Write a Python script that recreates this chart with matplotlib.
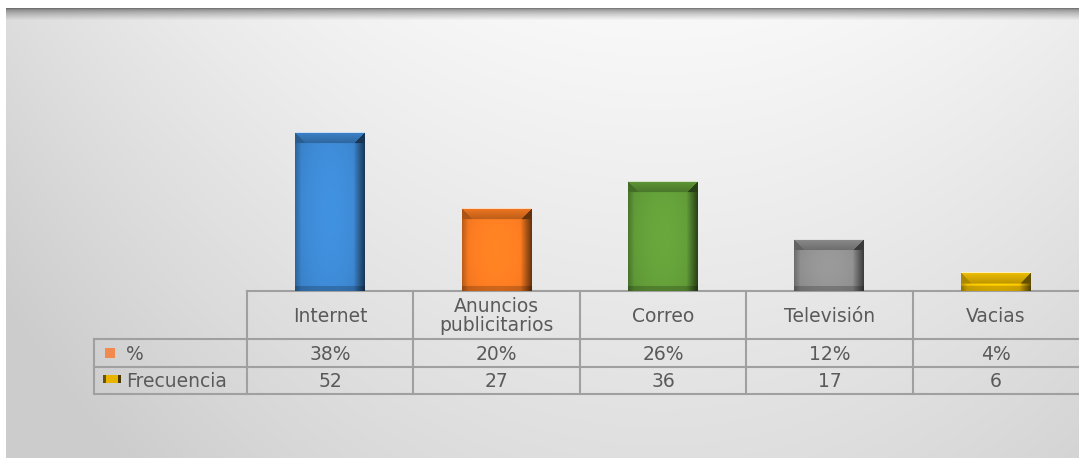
import numpy as np
import matplotlib
matplotlib.use('Agg')
import matplotlib.pyplot as plt
import matplotlib.colors as mcolors
from matplotlib.patches import Rectangle

# data
categorias = ['Internet', 'Anuncios\npublicitarios', 'Correo', 'Televisión', 'Vacias']
porcentaje = [38, 20, 26, 12, 4]
frecuencia = [52, 27, 36, 17, 6]
series_names = ['%', 'Frecuencia']
bar_colors = ['#3a82c9', '#ef7620', '#5e9636', '#8a8a8a', '#eebd00']

W, H = 1079, 458
txt_color = '#5a5a5a'
grid_color = '#a0a0a0'
plt.rcParams['font.family'] = ['DejaVu Sans']

fig = plt.figure(figsize=(W / 100, H / 100), dpi=100)

# background panel with soft gradient (pixel coordinates)
bg = fig.add_axes([0, 0, 1, 1])
bg.set_xlim(0, W)
bg.set_ylim(H, 0)
bg.axis('off')
yy, xx = np.mgrid[0:H, 0:W]
dx = (xx - 660) / 600.0
v = 0.975 - 0.09 * dx ** 2 - 0.10 * (yy - 10) / 450.0
v = np.clip(v, 0.8, 1)
shadow = np.clip((yy - 8) / 12.0, 0, 1)
v = v * (0.5 + 0.5 * shadow ** 0.6)
v[(yy < 8) | (xx < 6)] = 1.0
bg.imshow(np.dstack([v, v, v]), extent=(0, W, H, 0), aspect='auto', zorder=0)

# table geometry in pixels
col_x0, col_w = 247, 166.4
leg_x0 = 94
row_y = [291, 339, 367, 394]
x_end = W

# bar axes sits right on top of the table
px_per_unit = 3.04
ymax = 60
ax_bottom = 1 - row_y[0] / H
ax_height = ymax * px_per_unit / H
ax = fig.add_axes([col_x0 / W, ax_bottom, (col_w * 5) / W, ax_height])
ax.set_xlim(-0.5, 4.5)
ax.set_ylim(0, ymax)
ax.axis('off')
ax.patch.set_alpha(0)

bar_w = 0.42
bars = ax.bar(range(len(frecuencia)), frecuencia, width=bar_w, color=bar_colors, zorder=2)


def bevel_image(color, w_px, h_px, bev=11):
    base = np.array(mcolors.to_rgb(color))
    h_px = max(int(round(h_px)), 2)
    w_px = int(round(w_px))
    yy, xx = np.mgrid[0:h_px, 0:w_px].astype(float)
    u = (xx + 0.5) / w_px
    t = (yy + 0.5) / h_px
    f = 0.95 + 0.12 * (1 - (2 * u - 1) ** 2) + 0.05 * (1 - (2 * t - 1) ** 2)
    # side shading: soft left, strong right
    f = np.where(xx >= w_px - bev, f * (0.45 + 0.55 * (w_px - 1 - xx) / bev), f)
    f = np.where(xx < 6, f * (0.8 + 0.2 * xx / 6), f)
    # top bevel: trapezoid + corner triangles
    top = yy < bev
    f = np.where(top & (xx >= yy) & (xx < w_px - yy), 0.78 + 0.22 * (1 - yy / bev), f)
    f = np.where(top & (xx < yy), 0.72, f)
    f = np.where(top & (xx >= w_px - yy), 0.42, f)
    # bottom bevel
    f = np.where(yy >= h_px - 5, f * 0.8, f)
    img = np.clip(base[None, None, :] * f[..., None], 0, 1)
    # thin light rim on top edge
    img[0, :, :] = np.clip(base * 0.3 + 0.72, 0, 1)
    return img


for b, c in zip(bars, bar_colors):
    h = b.get_height()
    img = bevel_image(c, bar_w * col_w, h * px_per_unit)
    ax.imshow(img, extent=(b.get_x(), b.get_x() + b.get_width(), 0, h),
              aspect='auto', origin='upper', zorder=3, interpolation='bilinear')
ax.set_xlim(-0.5, 4.5)
ax.set_ylim(0, ymax)

# data table
lw = 1.5
bg.plot([col_x0, x_end], [row_y[0], row_y[0]], color=grid_color, lw=lw, zorder=2)
for y in row_y[1:]:
    bg.plot([leg_x0, x_end], [y, y], color=grid_color, lw=lw, zorder=2)
bg.plot([leg_x0, leg_x0], [row_y[1], row_y[3]], color=grid_color, lw=lw, zorder=2)
for k in range(5):
    x = col_x0 + k * col_w
    bg.plot([x, x], [row_y[0], row_y[3]], color=grid_color, lw=lw, zorder=2)

fs = 13.5
for k, cat in enumerate(categorias):
    xc = col_x0 + (k + 0.5) * col_w
    bg.text(xc, (row_y[0] + row_y[1]) / 2 + 1, cat, ha='center', va='center',
            fontsize=fs, color=txt_color, linespacing=1.0)
    bg.text(xc, (row_y[1] + row_y[2]) / 2 + 1, f'{porcentaje[k]}%', ha='center', va='center',
            fontsize=fs, color=txt_color)
    bg.text(xc, (row_y[2] + row_y[3]) / 2 + 1, str(frecuencia[k]), ha='center', va='center',
            fontsize=fs, color=txt_color)

# legend keys in the first column
for r, name in enumerate(series_names):
    yc = (row_y[r + 1] + row_y[r + 2]) / 2 + 1
    bg.text(126, yc, name, ha='left', va='center', fontsize=fs, color=txt_color)
bg.add_patch(Rectangle((105, 348), 10, 10, facecolor='#f28a50', edgecolor='none', zorder=3))
bg.add_patch(Rectangle((103, 375), 18, 8, facecolor='#e8b400', edgecolor='none', zorder=3))
bg.add_patch(Rectangle((103, 375), 3, 8, facecolor='#6a5400', edgecolor='none', zorder=4))
bg.add_patch(Rectangle((118, 375), 3, 8, facecolor='#4a3a00', edgecolor='none', zorder=4))

plt.savefig('out.png', dpi=100)
